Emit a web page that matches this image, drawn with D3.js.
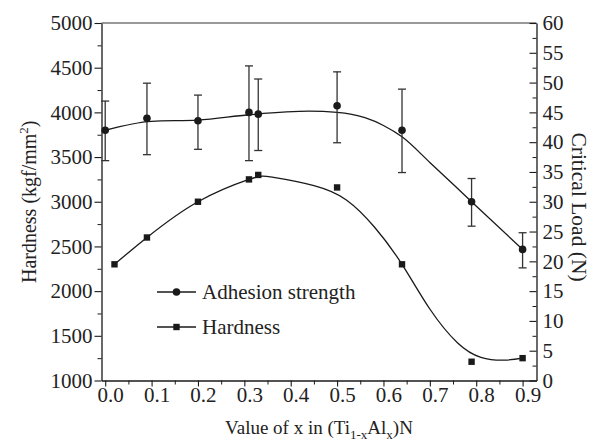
<!DOCTYPE html>
<html>
<head>
<meta charset="utf-8">
<script src="https://cdn.jsdelivr.net/npm/d3@7"></script>
<style>
  html, body { margin: 0; padding: 0; background: #fff; }
  svg { display: block; }
  text { font-family: "Liberation Serif", "Times New Roman", serif; fill: #222; }
</style>
</head>
<body>
<svg id="chart" width="601" height="441"></svg>
<script>
// ---- data ----
const xAdhesion   = [0.0, 0.09, 0.2, 0.31, 0.33, 0.5, 0.64, 0.79, 0.9];
const adhesion    = [42.0, 44.0, 43.6, 45.0, 44.7, 46.1, 42.0, 30.0, 22.0];
const adhesionLow = [36.9, 37.9, 38.8, 36.9, 38.6, 39.9, 34.9, 25.9, 18.9];
const adhesionHigh= [46.9, 49.9, 47.9, 52.8, 50.6, 51.8, 48.9, 33.9, 24.8];

const xHardness   = [0.02, 0.09, 0.2, 0.31, 0.33, 0.5, 0.64, 0.79, 0.9];
const hardness    = [2300, 2600, 3000, 3250, 3300, 3160, 2300, 1210, 1250];

// fitted curves
const adhesionFitX = [0.0, 0.1, 0.2, 0.31, 0.44, 0.5, 0.56, 0.6, 0.64, 0.7, 0.79, 0.9];
const adhesionFitY = [42.0, 43.5, 43.7, 44.6, 45.2, 45.0, 44.1, 42.8, 40.9, 36.6, 30.0, 22.0];
const hardnessFitX = [0.02, 0.09, 0.2, 0.31, 0.36, 0.45, 0.52, 0.58, 0.64, 0.70, 0.76, 0.81, 0.86, 0.9];
const hardnessFitY = [2300, 2600, 3000, 3250, 3275, 3180, 3020, 2720, 2300, 1800, 1420, 1260, 1228, 1250];

const xTicks      = [0.0, 0.1, 0.2, 0.3, 0.4, 0.5, 0.6, 0.7, 0.8, 0.9];
const leftTicks   = [1000, 1500, 2000, 2500, 3000, 3500, 4000, 4500, 5000];
const rightTicks  = [0, 5, 10, 15, 20, 25, 30, 35, 40, 45, 50, 55, 60];
const legendLabels = ["Adhesion strength", "Hardness"];

// ---- layout ----
const L = 101.5, R = 536.5, T = 23, B = 380.5;
const svg = d3.select("#chart");

const x = d3.scaleLinear().domain([-0.008, 0.93]).range([L, R]);
const yL = d3.scaleLinear().domain([1000, 5000]).range([B, T]);
const yR = d3.scaleLinear().domain([0, 60]).range([B, T]);

const ink = "#1a1a1a";
const FS = 21;

// top frame line
svg.append("line").attr("x1", L).attr("x2", R).attr("y1", T).attr("y2", T)
  .attr("stroke", "#777").attr("stroke-width", 1.4);

function styleAxis(g) {
  g.select(".domain").attr("stroke", ink).attr("stroke-width", 1.3);
  g.selectAll(".tick line").attr("stroke", ink).attr("stroke-width", 1.1);
  g.selectAll(".tick text").attr("font-size", FS).attr("font-family", "Liberation Serif, serif").attr("fill", "#222");
}

// minor ticks
const xMinor = d3.range(0, 19).map(i => 0.05 + i * 0.1).filter(v => v < 0.93);
const lMinor = d3.range(0, 8).map(i => 1250 + i * 500);
const rMinor = d3.range(0, 12).map(i => 2.5 + i * 5);

svg.append("g").attr("transform", `translate(0,${B})`)
  .call(d3.axisBottom(x).tickValues(xMinor).tickSize(4).tickFormat(""))
  .call(g => { g.select(".domain").remove(); g.selectAll("line").attr("stroke", ink); });
svg.append("g").attr("transform", `translate(${L},0)`)
  .call(d3.axisLeft(yL).tickValues(lMinor).tickSize(4).tickFormat(""))
  .call(g => { g.select(".domain").remove(); g.selectAll("line").attr("stroke", ink); });
svg.append("g").attr("transform", `translate(${R},0)`)
  .call(d3.axisRight(yR).tickValues(rMinor).tickSize(-4).tickFormat(""))
  .call(g => { g.select(".domain").remove(); g.selectAll("line").attr("stroke", ink); });

// major axes
svg.append("g").attr("transform", `translate(0,${B})`)
  .call(d3.axisBottom(x).tickValues(xTicks).tickSizeInner(6).tickSizeOuter(0).tickPadding(1).tickFormat(d3.format(".1f")))
  .call(styleAxis)
  .call(g => g.selectAll(".tick text").attr("dx", 5));
svg.append("g").attr("transform", `translate(${L},0)`)
  .call(d3.axisLeft(yL).tickValues(leftTicks).tickSizeInner(7).tickSizeOuter(0).tickPadding(2).tickFormat(d3.format("d")))
  .call(styleAxis);
svg.append("g").attr("transform", `translate(${R},0)`)
  .call(d3.axisRight(yR).tickValues(rightTicks).tickSizeInner(-7).tickSizeOuter(0).tickPadding(6).tickFormat(d3.format("d")))
  .call(styleAxis);

// fitted curves
const fitLineA = d3.line().x(d => x(d[0])).y(d => yR(d[1])).curve(d3.curveMonotoneX);
const fitLineH = d3.line().x(d => x(d[0])).y(d => yL(d[1])).curve(d3.curveNatural);
svg.append("path").datum(adhesionFitX.map((v, i) => [v, adhesionFitY[i]]))
  .attr("d", fitLineA).attr("fill", "none").attr("stroke", ink).attr("stroke-width", 1.3);
svg.append("path").datum(hardnessFitX.map((v, i) => [v, hardnessFitY[i]]))
  .attr("d", fitLineH).attr("fill", "none").attr("stroke", ink).attr("stroke-width", 1.3);

// error bars
const eb = svg.append("g").attr("stroke", "#333").attr("stroke-width", 1.3);
xAdhesion.forEach((xv, i) => {
  const cx = x(xv);
  eb.append("line").attr("x1", cx).attr("x2", cx).attr("y1", yR(adhesionLow[i])).attr("y2", yR(adhesionHigh[i]));
  eb.append("line").attr("x1", cx - 4).attr("x2", cx + 4).attr("y1", yR(adhesionLow[i])).attr("y2", yR(adhesionLow[i]));
  eb.append("line").attr("x1", cx - 4).attr("x2", cx + 4).attr("y1", yR(adhesionHigh[i])).attr("y2", yR(adhesionHigh[i]));
});

// markers
svg.append("g").selectAll("circle").data(xAdhesion.map((v, i) => [v, adhesion[i]])).join("circle")
  .attr("cx", d => x(d[0])).attr("cy", d => yR(d[1])).attr("r", 3.8).attr("fill", ink);
svg.append("g").selectAll("rect").data(xHardness.map((v, i) => [v, hardness[i]])).join("rect")
  .attr("x", d => x(d[0]) - 3.2).attr("y", d => yL(d[1]) - 3.2).attr("width", 6.4).attr("height", 6.4).attr("fill", ink);

// legend
const lg = svg.append("g");
const legY = [292, 327];
legendLabels.forEach((lab, i) => {
  const yy = legY[i];
  lg.append("line").attr("x1", 157).attr("x2", 196).attr("y1", yy).attr("y2", yy).attr("stroke", ink).attr("stroke-width", 1.3);
  if (i === 0) lg.append("circle").attr("cx", 176.5).attr("cy", yy).attr("r", 3.8).attr("fill", ink);
  else lg.append("rect").attr("x", 173.3).attr("y", yy - 3.2).attr("width", 6.4).attr("height", 6.4).attr("fill", ink);
  lg.append("text").attr("x", 202).attr("y", yy).attr("dy", "0.35em").attr("font-size", FS).text(lab);
});

// axis titles
const xt = svg.append("text").attr("x", (L + R) / 2 + 0).attr("y", 434).attr("text-anchor", "middle").attr("font-size", 19);
xt.append("tspan").text("Value of x in (Ti");
xt.append("tspan").attr("font-size", 13).attr("dy", 5).text("1-x");
xt.append("tspan").attr("dy", -5).text("Al");
xt.append("tspan").attr("font-size", 13).attr("dy", 5).text("x");
xt.append("tspan").attr("dy", -5).text(")N");

const ylt = svg.append("text").attr("transform", `translate(36,${(T + B) / 2}) rotate(-90)`)
  .attr("text-anchor", "middle").attr("font-size", 20);
ylt.append("tspan").text("Hardness (kgf/mm");
ylt.append("tspan").attr("font-size", 13).attr("dy", -8).text("2");
ylt.append("tspan").attr("dy", 8).text(")");

svg.append("text").attr("transform", `translate(572,207) rotate(90)`)
  .attr("text-anchor", "middle").attr("font-size", 21.5).text("Critical Load (N)");
</script>
</body>
</html>
